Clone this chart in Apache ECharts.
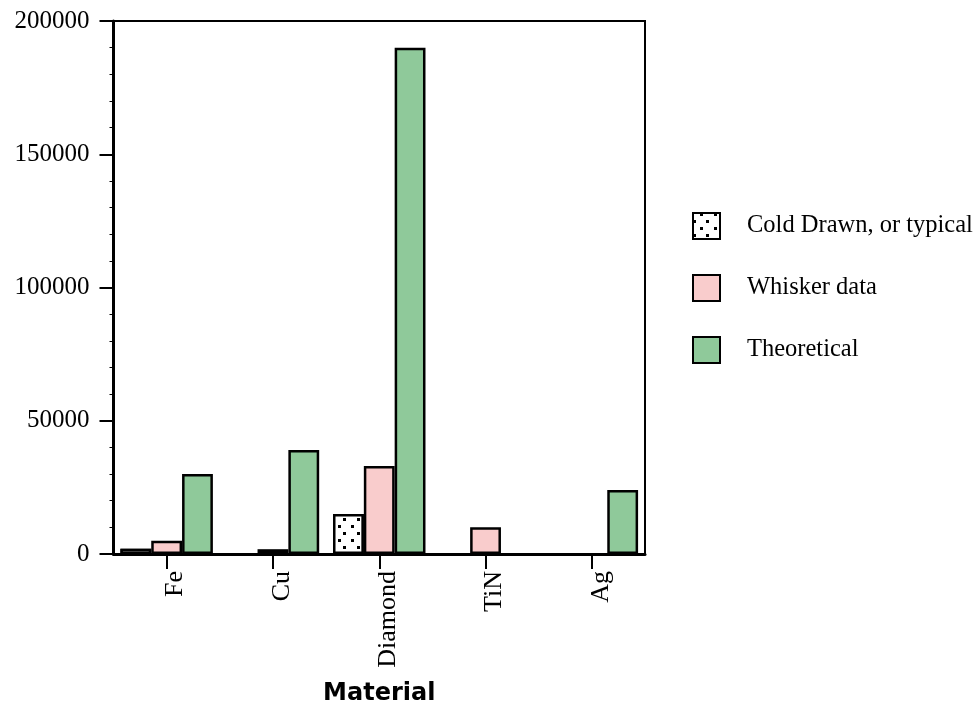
<!DOCTYPE html>
<html>
<head>
<meta charset="utf-8">
<script src="https://cdn.jsdelivr.net/npm/echarts@6/dist/echarts.min.js"></script>
<style>
html,body{margin:0;padding:0;background:#fff;}
#chart{width:979px;height:724px;}
</style>
</head>
<body>
<div id="chart"></div>
<script>
const categories = ['Fe', 'Cu', 'Diamond', 'TiN', 'Ag'];
const coldDrawn = [2000, null, 15000, null, null];
const whisker = [5000, 1800, 33000, 10000, null];
const theoretical = [30000, 39000, 190000, null, 24000];
const seriesNames = ['Cold Drawn, or typical', 'Whisker data', 'Theoretical'];
const yTicks = [0, 50000, 100000, 150000, 200000];

const serif = '"Liberation Serif", "Times New Roman", serif';
const chart = echarts.init(document.getElementById('chart'), null, {renderer: 'canvas'});

const dotDecal = {
  symbol: 'rect',
  symbolSize: 1,
  color: '#000',
  backgroundColor: '#fff',
  dashArrayX: [[3, 10], [0, 6.5, 3, 3.5]],
  dashArrayY: [3, 3.7],
  rotation: 0
};

const barBorder = {borderColor: '#000', borderWidth: 2.5};

chart.setOption({
  animation: false,
  aria: {enabled: false},
  grid: {
    left: 113.5, right: 334, top: 21, bottom: 170,
    show: true, borderColor: '#000', borderWidth: 2, backgroundColor: 'transparent'
  },
  legend: {
    orient: 'vertical',
    left: 687, top: 207,
    itemWidth: 27, itemHeight: 26, itemGap: 34,
    icon: 'rect',
    textStyle: {fontFamily: serif, fontSize: 24.5, color: '#000', padding: [0, 0, 0, 22]},
    data: seriesNames.map(n => ({name: n}))
  },
  xAxis: {
    type: 'category',
    data: categories,
    name: 'Material',
    nameLocation: 'middle',
    nameGap: 128,
    nameTextStyle: {fontFamily: '"DejaVu Sans", sans-serif', fontWeight: 'bold', fontSize: 24, color: '#000'},
    axisLine: {lineStyle: {color: '#000', width: 3}},
    axisTick: {show: true, interval: 0, alignWithLabel: true, length: 15, lineStyle: {color: '#000', width: 2}},
    axisLabel: {interval: 0, rotate: 90, margin: 17, verticalAlign: 'top', lineHeight: 18, fontFamily: serif, fontSize: 26, color: '#000'},
    splitLine: {show: false}
  },
  yAxis: {
    type: 'value',
    min: yTicks[0], max: yTicks[yTicks.length - 1], interval: 50000,
    axisLine: {show: true, lineStyle: {color: '#000', width: 3}},
    axisTick: {show: true, length: 14, lineStyle: {color: '#000', width: 2}},
    minorTick: {show: true, splitNumber: 5, length: 4, lineStyle: {color: '#000', width: 1}},
    axisLabel: {margin: 24, fontFamily: serif, fontSize: 25, color: '#000', formatter: v => String(v)},
    splitLine: {show: false}
  },
  series: [
    {
      name: seriesNames[0], type: 'bar', data: coldDrawn,
      barGap: '0%', barCategoryGap: '13%',
      itemStyle: Object.assign({color: '#fff', decal: dotDecal}, barBorder)
    },
    {
      name: seriesNames[1], type: 'bar', data: whisker,
      barGap: '0%', barCategoryGap: '13%',
      itemStyle: Object.assign({color: '#f9cccc'}, barBorder)
    },
    {
      name: seriesNames[2], type: 'bar', data: theoretical,
      barGap: '0%', barCategoryGap: '13%',
      itemStyle: Object.assign({color: '#8fc99a'}, barBorder)
    }
  ]
});
</script>
</body>
</html>
